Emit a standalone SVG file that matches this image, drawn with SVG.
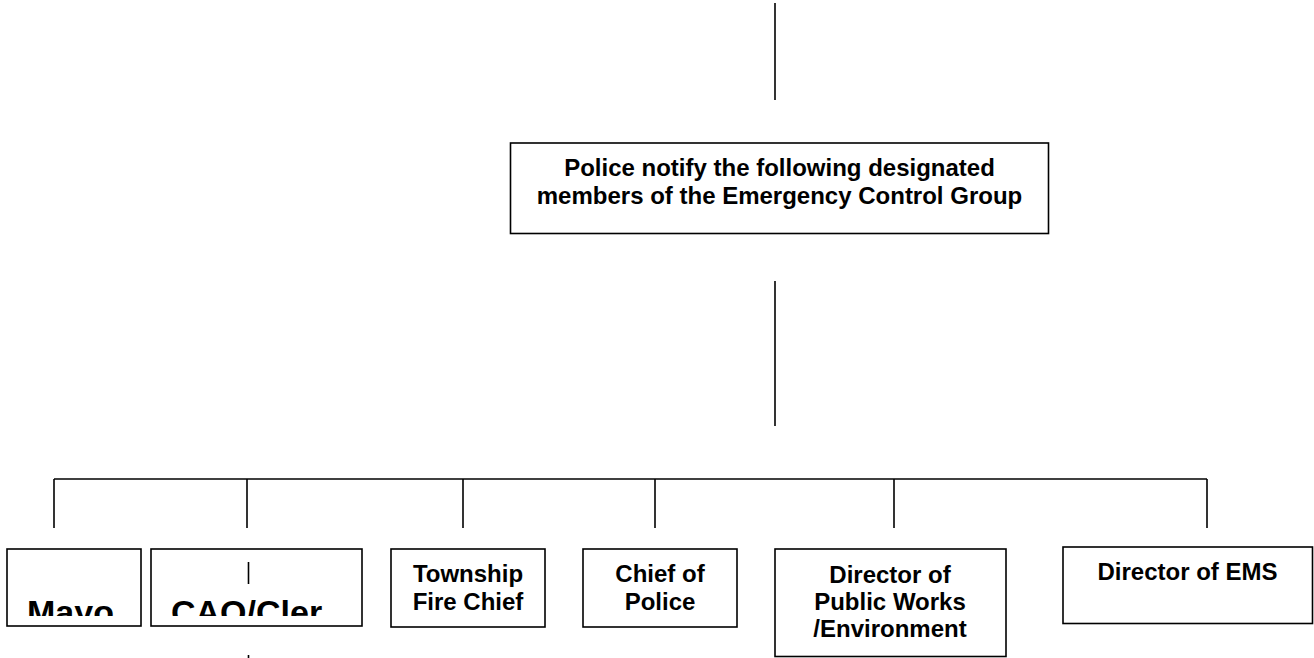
<svg xmlns="http://www.w3.org/2000/svg" width="1314" height="658" viewBox="0 0 1314 658">
<style>
.box{fill:#fff;stroke:#000;stroke-width:1.6}
.ln{stroke:#000;stroke-width:1.6;fill:none}
.t{font-family:"Liberation Sans",Arial,sans-serif;font-weight:bold;font-size:24px;fill:#000;text-anchor:middle}
.big{font-family:"Liberation Sans",Arial,sans-serif;font-weight:bold;font-size:34px;fill:#000}
</style>
<defs>
<clipPath id="clipMayor"><rect x="8" y="550" width="132" height="66"/></clipPath>
<clipPath id="clipCAO"><rect x="152" y="550" width="209" height="66"/></clipPath>
</defs>
<rect width="1314" height="658" fill="#fff"/>
<g id="connectors">
<line class="ln" x1="775" y1="3" x2="775" y2="100"/>
<line class="ln" x1="775" y1="281" x2="775" y2="426"/>
<line class="ln" x1="54" y1="479" x2="1207" y2="479"/>
<line class="ln" x1="54" y1="479" x2="54" y2="528"/>
<line class="ln" x1="247" y1="479" x2="247" y2="528"/>
<line class="ln" x1="463" y1="479" x2="463" y2="528"/>
<line class="ln" x1="655" y1="479" x2="655" y2="528"/>
<line class="ln" x1="894" y1="479" x2="894" y2="528"/>
<line class="ln" x1="1207" y1="479" x2="1207" y2="528"/>
</g>
<g id="police">
<rect class="box" x="510.5" y="143" width="538" height="90.5"/>
<text class="t" x="779.5" y="176">Police notify the following designated</text>
<text class="t" x="779.5" y="203.5">members of the Emergency Control Group</text>
</g>
<g id="mayor">
<rect class="box" x="7" y="549" width="134" height="77"/>
<text class="big" x="27" y="623.6" clip-path="url(#clipMayor)">Mayo</text>
</g>
<g id="cao">
<rect class="box" x="151" y="549" width="211" height="77"/>
<line class="ln" x1="248.5" y1="562" x2="248.5" y2="584"/>
<text class="big" x="171" y="623.6" clip-path="url(#clipCAO)">CAO/Cler</text>
<line class="ln" x1="248.5" y1="655" x2="248.5" y2="658"/>
</g>
<g id="fire">
<rect class="box" x="391" y="549" width="154" height="78"/>
<text class="t" x="468" y="582.3">Township</text>
<text class="t" x="468" y="610">Fire Chief</text>
</g>
<g id="chiefpolice">
<rect class="box" x="583" y="549" width="154" height="78"/>
<text class="t" x="660" y="582.3">Chief of</text>
<text class="t" x="660" y="610">Police</text>
</g>
<g id="publicworks">
<rect class="box" x="775" y="549" width="231" height="107.5"/>
<text class="t" x="890" y="582.5">Director of</text>
<text class="t" x="890" y="610">Public Works</text>
<text class="t" x="890" y="637">/Environment</text>
</g>
<g id="ems">
<rect class="box" x="1063" y="547" width="249.5" height="76.5"/>
<text class="t" x="1187.5" y="580">Director of EMS</text>
</g>
</svg>
